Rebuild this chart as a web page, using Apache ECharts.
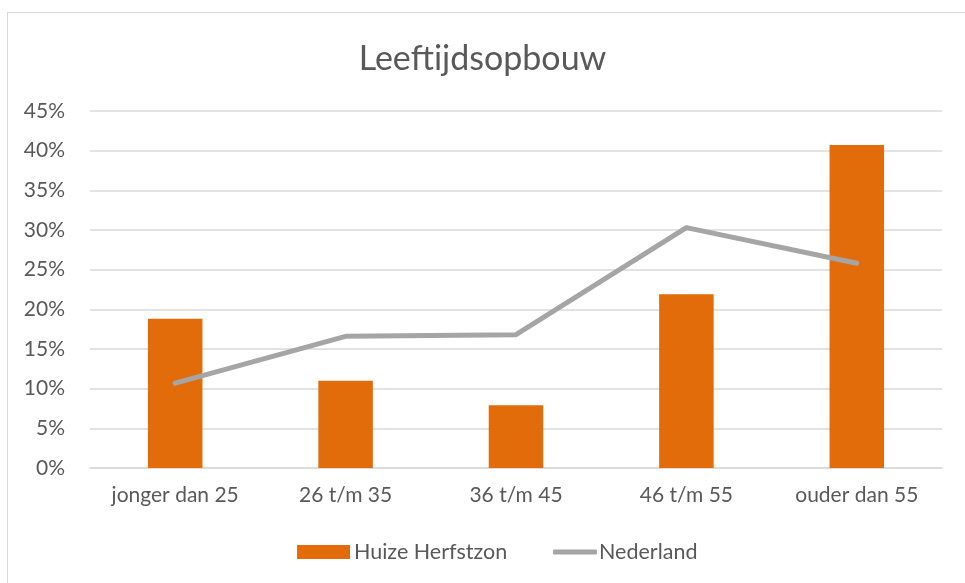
<!DOCTYPE html>
<html>
<head>
<meta charset="utf-8">
<script src="https://cdn.jsdelivr.net/npm/echarts@6/dist/echarts.min.js"></script>
<style>
  html, body { margin: 0; padding: 0; background: #fff; }
  #frame { position: absolute; left: 7px; top: 12px; width: 965px; height: 583px; border: 1px solid #d9d9d9; box-sizing: border-box; }
  #chart { position: absolute; left: 0; top: 0; width: 965px; height: 583px; }
</style>
</head>
<body>
<div id="frame"></div>
<div id="chart"></div>
<script>
// leeftijdsgroepen
const categories = ['jonger dan 25', '26 t/m 35', '36 t/m 45', '46 t/m 55', 'ouder dan 55'];
// aandeel in procenten
const huizeHerfstzon = [18.8, 11.0, 7.9, 21.9, 40.7];
const nederland = [10.7, 16.6, 16.8, 30.3, 25.8];

const font = 'Lato, "Liberation Sans", sans-serif';
const labelColor = '#595959';
const chart = echarts.init(document.getElementById('chart'));
chart.setOption({
  animation: false,
  title: {
    text: 'Leeftijdsopbouw',
    left: 'center',
    top: 37,
    textStyle: { fontFamily: font, fontSize: 34, fontWeight: 'normal', color: labelColor }
  },
  legend: [
    {
      left: 292,
      top: 536,
      itemWidth: 53,
      itemHeight: 14,
      textStyle: { fontFamily: font, fontSize: 21.5, color: labelColor, padding: [0, 0, 0, -1] },
      data: [{ name: 'Huize Herfstzon', icon: 'rect' }]
    },
    {
      left: 548,
      top: 536,
      itemWidth: 44,
      itemHeight: 5,
      textStyle: { fontFamily: font, fontSize: 21.5, color: labelColor, padding: [0, 0, 0, -3] },
      data: [{ name: 'Nederland', icon: 'roundRect' }]
    }
  ],
  grid: { left: 90, right: 23, top: 111, bottom: 115 },
  xAxis: {
    type: 'category',
    data: categories,
    axisTick: { show: false },
    axisLine: { lineStyle: { color: '#d9d9d9', width: 1.5 } },
    axisLabel: { fontFamily: font, fontSize: 21, color: labelColor, margin: 17 }
  },
  yAxis: {
    type: 'value',
    min: 0,
    max: 45,
    interval: 5,
    axisLine: { show: false },
    axisTick: { show: false },
    splitLine: { lineStyle: { color: '#d9d9d9', width: 1.5 } },
    axisLabel: { fontFamily: font, fontSize: 21, color: labelColor, margin: 25, formatter: '{value}%' }
  },
  series: [
    {
      name: 'Huize Herfstzon',
      type: 'bar',
      data: huizeHerfstzon,
      barWidth: '32%',
      itemStyle: { color: '#e36c0a' }
    },
    {
      name: 'Nederland',
      type: 'line',
      data: nederland,
      symbol: 'none',
      lineStyle: { color: '#a5a5a5', width: 5, cap: 'round', join: 'round' },
      itemStyle: { color: '#a5a5a5' }
    }
  ]
});
</script>
</body>
</html>
